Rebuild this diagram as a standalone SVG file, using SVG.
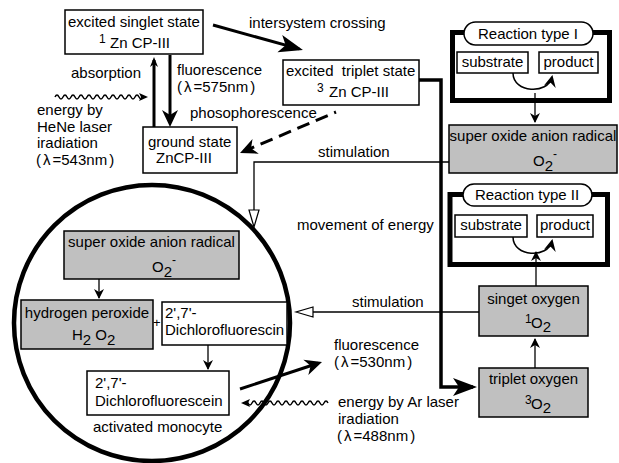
<svg xmlns="http://www.w3.org/2000/svg" width="619" height="463" viewBox="0 0 619 463">
<style>
.t{font-family:"Liberation Sans",Arial,"Noto Sans CJK JP",sans-serif;font-size:15px;fill:#000}
.sm{font-size:12px}
.box{fill:#fff;stroke:#000;stroke-width:1.5}
.gbox{fill:#c0c0c0;stroke:#000;stroke-width:1.5}
.frame{fill:none;stroke:#000;stroke-width:5}
.thick{fill:none;stroke:#000;stroke-width:3}
.thin{fill:none;stroke:#000;stroke-width:1.3}
.wave{fill:none;stroke:#000;stroke-width:1.5}
</style>
<defs>
<marker id="chev" markerUnits="userSpaceOnUse" viewBox="-30 -15 60 30" markerWidth="60" markerHeight="30" refX="0" refY="0" orient="auto"><path d="M4,0 L-13,-8 L-8,0 L-13,8 z" fill="#000"/></marker>
<marker id="chevL" markerUnits="userSpaceOnUse" viewBox="-30 -15 60 30" markerWidth="60" markerHeight="30" refX="0" refY="0" orient="auto"><path d="M4,0 L-20,-9 L-14,0 L-20,9 z" fill="#000"/></marker>
<marker id="chevS" markerUnits="userSpaceOnUse" viewBox="-30 -15 60 30" markerWidth="60" markerHeight="30" refX="0" refY="0" orient="auto"><path d="M3,0 L-7,-4 L-4,0 L-7,4 z" fill="#000"/></marker>
<marker id="thinA" markerUnits="userSpaceOnUse" viewBox="-30 -15 60 30" markerWidth="60" markerHeight="30" refX="0" refY="0" orient="auto"><path d="M1,0 L-9,-5 L-6,0 L-9,5 z" fill="#000"/></marker>
<marker id="curveA" markerUnits="userSpaceOnUse" viewBox="-30 -15 60 30" markerWidth="60" markerHeight="30" refX="0" refY="0" orient="auto"><path d="M2,0 L-10,-6 L-6,0 L-10,6 z" fill="#000"/></marker>
<marker id="waveA" markerUnits="userSpaceOnUse" viewBox="-30 -15 60 30" markerWidth="60" markerHeight="30" refX="0" refY="0" orient="auto"><path d="M2,0 L-7,-4 L-5,0 L-7,4 z" fill="#000"/></marker>
<marker id="openA" markerUnits="userSpaceOnUse" viewBox="-30 -15 60 30" markerWidth="60" markerHeight="30" refX="0" refY="0" orient="auto"><path d="M17,0 L0,-5 L0,5 z" fill="#fff" stroke="#000" stroke-width="1.2"/></marker>
</defs>
<rect width="619" height="463" fill="#fff"/>

<g id="monocyte">
<circle cx="152" cy="323" r="138" fill="none" stroke="#000" stroke-width="4.5"/>
<text class="t" x="93" y="432">activated monocyte</text>
</g>

<g id="connectors">
<path class="thick" d="M213,25 L299.1,48.9" marker-end="url(#chevL)"/>
<path class="thick" d="M170,55 V123" marker-end="url(#chev)"/>
<path class="thick" d="M154,127 V60" marker-end="url(#chevS)"/>
<path class="thick" d="M336,112 L243.7,151.4" stroke-dasharray="13 7" stroke-dashoffset="11" marker-end="url(#chev)"/>
<path d="M419,80 H441 V387 H473" fill="none" stroke="#000" stroke-width="3.5" marker-end="url(#chevL)"/>
<path class="thick" d="M240,389 L318.2,363.3" marker-end="url(#chev)"/>
<path class="wave" d="M55,97 q2,-4 4,0 t4,0 t4,0 t4,0 t4,0 t4,0 t4,0 t4,0 t4,0 t4,0 t4,0 t4,0 t4,0 t4,0 t4,0 t4,0 t4,0 t4,0 t4,0 t4,0 t4,0 t4,0 h3" marker-end="url(#waveA)"/>
<path class="wave" d="M328,403 q-2,-4 -4,0 t-4,0 t-4,0 t-4,0 t-4,0 t-4,0 t-4,0 t-4,0 t-4,0 t-4,0 t-4,0 t-4,0 t-4,0 t-4,0 t-4,0 t-4,0 t-4,0 t-4,0 t-4,0 t-4,0 h-5" marker-end="url(#waveA)"/>
<path class="thin" d="M449,162 H254 V210" marker-end="url(#openA)"/>
<path class="thin" d="M479,312 H313" marker-end="url(#openA)"/>
<path class="thin" d="M535,93 V122" marker-end="url(#thinA)"/>
<path class="thin" d="M535,368 V339" marker-end="url(#thinA)"/>
<path class="thin" d="M536,286 V252" marker-end="url(#thinA)"/>
<path class="thin" d="M99,279 V298" marker-end="url(#thinA)"/>
<path class="thin" d="M208,345 V369" marker-end="url(#thinA)"/>
<path class="wave" d="M513,73 C513,93 548,95 552,77" marker-end="url(#curveA)"/>
<path class="wave" d="M513,237 C513,257 548,259 552,241" marker-end="url(#curveA)"/>
</g>

<g id="labels">
<text class="t" x="249" y="28">intersystem crossing</text>
<text class="t" x="71" y="78">absorption</text>
<text class="t" x="177" y="75">fluorescence</text>
<text class="t" x="177" y="92">(<tspan dx="2">λ</tspan><tspan dx="2">=575nm</tspan><tspan dx="2">)</tspan></text>
<text class="t" x="37" y="115">energy by</text>
<text class="t" x="37" y="132">HeNe laser</text>
<text class="t" x="37" y="148">iradiation</text>
<text class="t" x="36" y="165">(<tspan dx="2">λ</tspan><tspan dx="2">=543nm</tspan><tspan dx="2">)</tspan></text>
<text class="t" x="190" y="118">phosophorescence</text>
<text class="t" x="318" y="157">stimulation</text>
<text class="t" x="297" y="230">movement of energy</text>
<text class="t" x="352" y="307">stimulation</text>
<text class="t" x="334" y="350">fluorescence</text>
<text class="t" x="334" y="367">(<tspan dx="2">λ</tspan><tspan dx="2">=530nm</tspan><tspan dx="2">)</tspan></text>
<text class="t" x="338" y="407">energy by Ar laser</text>
<text class="t" x="338" y="424">iradiation</text>
<text class="t" x="337" y="441">(<tspan dx="2">λ</tspan><tspan dx="2">=488nm</tspan><tspan dx="2">)</tspan></text>
<text class="t" x="153" y="327" style="font-size:13px">+</text>
</g>

<g id="singlet">
<rect class="box" x="65" y="10" width="138" height="44"/>
<text class="t" x="68" y="27">excited singlet state</text>
<text class="t"><tspan class="sm" x="99" y="43">1</tspan><tspan x="110" y="48">Zn CP-III</tspan></text>
</g>

<g id="triplet">
<rect class="box" x="283" y="60" width="136" height="45"/>
<text class="t" x="286" y="76" style="white-space:pre">excited  triplet state</text>
<text class="t"><tspan class="sm" x="317" y="92">3</tspan><tspan x="329" y="97">Zn CP-III</tspan></text>
</g>

<g id="ground">
<rect class="box" x="143" y="127" width="94" height="46"/>
<text class="t" x="148" y="147">ground state</text>
<text class="t" x="156" y="163">ZnCP-III</text>
</g>

<g id="reaction1">
<path class="frame" d="M464,32.5 H452.5 V100.5 H609.5 V32.5 H593"/>
<rect class="box" x="464" y="22" width="129" height="23" rx="11.5"/>
<text class="t" x="528" y="39" text-anchor="middle">Reaction type I</text>
<rect class="box" x="457" y="52" width="71" height="21"/>
<text class="t" x="492.5" y="67" text-anchor="middle">substrate</text>
<rect class="box" x="539" y="52" width="59" height="21"/>
<text class="t" x="568.5" y="67" text-anchor="middle">product</text>
</g>

<g id="superoxide-right">
<rect class="gbox" x="449" y="125" width="168" height="48"/>
<text class="t" x="533" y="141" text-anchor="middle">super oxide anion radical</text>
<text class="t" x="533" y="166">O<tspan dy="5">2</tspan><tspan class="sm" dy="-13">-</tspan></text>
</g>

<g id="reaction2">
<path class="frame" d="M463,194.5 H450 V264.5 H607.5 V194.5 H592"/>
<rect class="box" x="463" y="184" width="129" height="22" rx="11"/>
<text class="t" x="527" y="200" text-anchor="middle">Reaction type II</text>
<rect class="box" x="455" y="215" width="72" height="22"/>
<text class="t" x="491" y="230" text-anchor="middle">substrate</text>
<rect class="box" x="537" y="215" width="56" height="22"/>
<text class="t" x="565" y="230" text-anchor="middle">product</text>
</g>

<g id="singlet-oxygen">
<rect class="gbox" x="479" y="286" width="109" height="50"/>
<text class="t" x="533.5" y="304" text-anchor="middle">singet oxygen</text>
<text class="t"><tspan class="sm" x="525" y="323">1</tspan><tspan x="531" y="328">O</tspan><tspan dy="4">2</tspan></text>
</g>

<g id="triplet-oxygen">
<rect class="gbox" x="479" y="368" width="109" height="49"/>
<text class="t" x="533.5" y="384" text-anchor="middle">triplet oxygen</text>
<text class="t"><tspan class="sm" x="525" y="404">3</tspan><tspan x="531" y="409">O</tspan><tspan dy="4">2</tspan></text>
</g>

<g id="superoxide-left">
<rect class="gbox" x="64" y="231" width="175" height="48"/>
<text class="t" x="151.5" y="247" text-anchor="middle">super oxide anion radical</text>
<text class="t" x="152" y="272">O<tspan dy="5">2</tspan><tspan class="sm" dy="-13">-</tspan></text>
</g>

<g id="hydrogen-peroxide">
<rect class="gbox" x="21" y="300" width="132" height="49"/>
<text class="t" x="87" y="318" text-anchor="middle">hydrogen peroxide</text>
<text class="t" x="72" y="340">H<tspan dy="5">2</tspan><tspan dy="-5"> O</tspan><tspan dy="5">2</tspan></text>
</g>

<g id="dichlorofluorescin">
<rect class="box" x="162" y="302" width="125" height="43"/>
<text class="t" x="165" y="318">2',7'-</text>
<text class="t" x="165" y="335">Dichlorofluorescin</text>
</g>

<g id="dichlorofluorescein">
<rect class="box" x="87" y="371" width="142" height="44"/>
<text class="t" x="95" y="388">2',7'-</text>
<text class="t" x="95" y="406">Dichlorofluorescein</text>
</g>
</svg>
